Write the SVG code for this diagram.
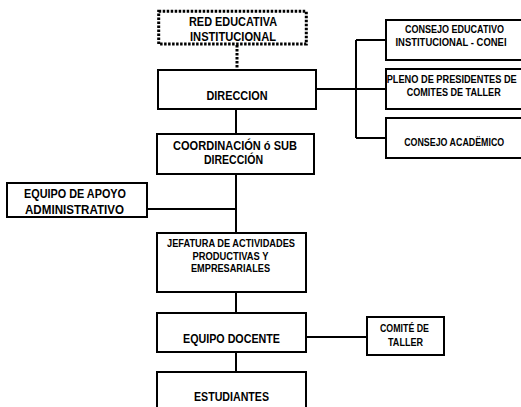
<svg xmlns="http://www.w3.org/2000/svg" width="521" height="407" viewBox="0 0 521 407">
<style>
.box{fill:#fff;stroke:#000;stroke-width:2}
.dot{fill:#fff;stroke:#000;stroke-width:3;stroke-dasharray:2.5 1.5}
.ln{fill:none;stroke:#000;stroke-width:2}
.dl{fill:none;stroke:#000;stroke-width:3;stroke-dasharray:2.5 1.5}
text{font-family:"Liberation Sans",Arial,sans-serif;font-weight:bold;fill:#000;text-anchor:middle}
.a{font-size:13px}
.b{font-size:11.5px}
.c{font-size:10px}
</style>
<rect width="521" height="407" fill="#fff"/>
<g id="connectors">
<path class="dl" d="M237 45V70"/>
<path class="ln" d="M236 109V134M236 174V233M147 209H236M236 292V313M236 352V372M306 337H366"/>
<path class="ln" d="M316 89H386M356 40V138M356 40H386M356 138H386"/>
</g>
<g id="red">
<rect class="dot" x="158.7" y="11.3" width="147.6" height="32.7"/>
<text class="a" x="233" y="26" textLength="88" lengthAdjust="spacingAndGlyphs">RED EDUCATIVA</text>
<text class="a" x="233" y="40.5" textLength="86" lengthAdjust="spacingAndGlyphs">INSTITUCIONAL</text>
</g>
<g id="direccion">
<rect class="box" x="158" y="70" width="158" height="39"/>
<text class="a" x="237" y="100" textLength="61" lengthAdjust="spacingAndGlyphs">DIRECCION</text>
</g>
<g id="coordinacion">
<rect class="box" x="157" y="134" width="157" height="40"/>
<text class="a" x="235" y="149.5" textLength="124" lengthAdjust="spacingAndGlyphs">COORDINACIÓN  ó SUB</text>
<text class="a" x="233.5" y="163.5" textLength="59" lengthAdjust="spacingAndGlyphs">DIRECCIÓN</text>
</g>
<g id="apoyo">
<rect class="box" x="7" y="183" width="140" height="34"/>
<text class="a" x="75" y="198" textLength="102" lengthAdjust="spacingAndGlyphs">EQUIPO DE APOYO</text>
<text class="a" x="74.5" y="214" textLength="99" lengthAdjust="spacingAndGlyphs">ADMINISTRATIVO</text>
</g>
<g id="jefatura">
<rect class="box" x="157" y="233" width="149" height="59"/>
<text class="b" x="231" y="246.7" textLength="128" lengthAdjust="spacingAndGlyphs">JEFATURA  DE ACTIVIDADES</text>
<text class="b" x="230.5" y="260" textLength="76" lengthAdjust="spacingAndGlyphs">PRODUCTIVAS Y</text>
<text class="b" x="230.5" y="272.3" textLength="79" lengthAdjust="spacingAndGlyphs">EMPRESARIALES</text>
</g>
<g id="docente">
<rect class="box" x="157" y="313" width="149" height="39"/>
<text class="a" x="231.5" y="342.7" textLength="97" lengthAdjust="spacingAndGlyphs">EQUIPO DOCENTE</text>
</g>
<g id="comite">
<rect class="box" x="367" y="317" width="77" height="38"/>
<text class="c" x="404.5" y="332.3" textLength="49" lengthAdjust="spacingAndGlyphs">COMITÉ DE</text>
<text class="c" x="405.5" y="345.7" textLength="35" lengthAdjust="spacingAndGlyphs">TALLER</text>
</g>
<g id="estudiantes">
<rect class="box" x="157" y="372" width="149" height="45"/>
<text class="a" x="231.5" y="401" textLength="75" lengthAdjust="spacingAndGlyphs">ESTUDIANTES</text>
</g>
<g id="conei">
<rect class="box" x="386" y="20" width="150" height="40"/>
<text class="c" x="454.5" y="32.7" textLength="99" lengthAdjust="spacingAndGlyphs">CONSEJO EDUCATIVO</text>
<text class="c" x="451" y="45.7" textLength="111" lengthAdjust="spacingAndGlyphs">INSTITUCIONAL - CONEI</text>
</g>
<g id="pleno">
<rect class="box" x="386" y="69" width="150" height="40"/>
<text class="c" x="451.7" y="83.3" textLength="130" lengthAdjust="spacingAndGlyphs">PLENO DE PRESIDENTES DE</text>
<text class="c" x="453.7" y="96" textLength="94" lengthAdjust="spacingAndGlyphs">COMITES DE TALLER</text>
</g>
<g id="academico">
<rect class="box" x="386" y="118" width="150" height="40"/>
<text class="c" x="454.2" y="145.7" textLength="100" lengthAdjust="spacingAndGlyphs">CONSEJO ACADËMICO</text>
</g>
</svg>
